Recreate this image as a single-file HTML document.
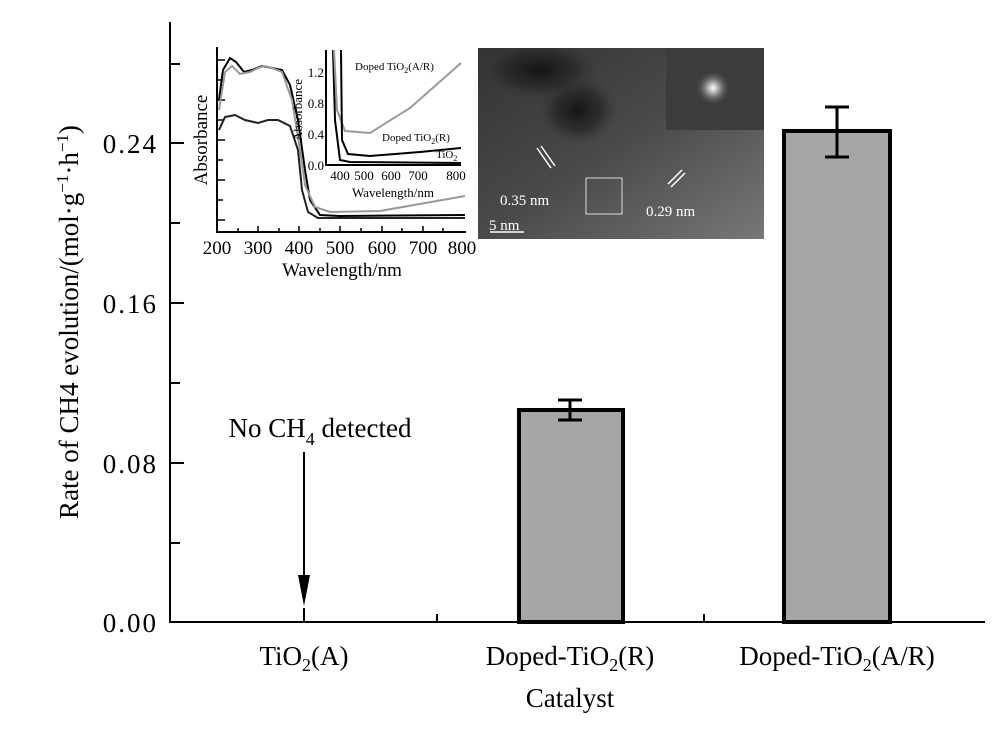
<!DOCTYPE html>
<html><head><meta charset="utf-8"><style>
body{margin:0;background:#fff;}
svg{display:block;font-family:"Liberation Serif",serif;}
</style></head><body>
<svg width="1000" height="743" viewBox="0 0 1000 743">
<defs>
<radialGradient id="dark" cx="0.5" cy="0.5" r="0.5"><stop offset="0" stop-color="#151515"/><stop offset="0.6" stop-color="#252525" stop-opacity="0.7"/><stop offset="1" stop-color="#3a3a3a" stop-opacity="0"/></radialGradient>
<linearGradient id="tem" x1="0" y1="0" x2="1" y2="1"><stop offset="0" stop-color="#333"/><stop offset="0.5" stop-color="#4a4a4a"/><stop offset="1" stop-color="#777"/></linearGradient>
<radialGradient id="fft"><stop offset="0" stop-color="#fff"/><stop offset="0.3" stop-color="#aaa"/><stop offset="1" stop-color="#3a3a3a" stop-opacity="0"/></radialGradient>
<clipPath id="tc"><rect x="478" y="48" width="286" height="191"/></clipPath>
</defs>
<!-- main axes -->
<g stroke="#000" stroke-width="2" fill="none">
<line x1="170" y1="22" x2="170" y2="623"/>
<line x1="169" y1="622" x2="985" y2="622"/>
<line x1="170" y1="143" x2="184" y2="143"/>
<line x1="170" y1="303" x2="184" y2="303"/>
<line x1="170" y1="463" x2="184" y2="463"/>
<line x1="170" y1="64" x2="180" y2="64"/>
<line x1="170" y1="223" x2="180" y2="223"/>
<line x1="170" y1="383" x2="180" y2="383"/>
<line x1="170" y1="543" x2="180" y2="543"/>
<line x1="304" y1="622" x2="304" y2="608"/>
<line x1="570" y1="622" x2="570" y2="608"/>
<line x1="837" y1="622" x2="837" y2="608"/>
<line x1="437" y1="622" x2="437" y2="614"/>
<line x1="704" y1="622" x2="704" y2="614"/>
</g>
<g font-size="27" text-anchor="end" letter-spacing="2">
<text x="158" y="632">0.00</text><text x="158" y="473">0.08</text>
<text x="158" y="313">0.16</text><text x="158" y="153">0.24</text>
</g>
<text transform="translate(78,322) rotate(-90)" font-size="27" text-anchor="middle">Rate of CH4 evolution/(mol·g<tspan dy="-10" font-size="17">−1</tspan><tspan dy="10">·h</tspan><tspan dy="-10" font-size="17">−1</tspan><tspan dy="10">)</tspan></text>
<g font-size="27" text-anchor="middle">
<text x="304" y="665">TiO<tspan font-size="18" dy="6">2</tspan><tspan dy="-6">(A)</tspan></text>
<text x="570" y="665">Doped-TiO<tspan font-size="18" dy="6">2</tspan><tspan dy="-6">(R)</tspan></text>
<text x="837" y="665">Doped-TiO<tspan font-size="18" dy="6">2</tspan><tspan dy="-6">(A/R)</tspan></text>
<text x="570" y="707">Catalyst</text>
<text x="320" y="437">No CH<tspan font-size="18" dy="8">4</tspan><tspan dy="-8"> detected</tspan></text>
</g>
<line x1="304" y1="452" x2="304" y2="585" stroke="#000" stroke-width="2"/>
<polygon points="298,575 310,575 304,606" fill="#000"/>
<!-- bars -->
<rect x="519" y="410" width="104" height="212" fill="#a6a6a6" stroke="#000" stroke-width="4"/>
<rect x="784" y="131" width="106" height="491" fill="#a6a6a6" stroke="#000" stroke-width="4"/>
<g stroke="#000" stroke-width="3">
<line x1="570" y1="400" x2="570" y2="420"/><line x1="558" y1="400" x2="582" y2="400"/><line x1="558" y1="420" x2="582" y2="420"/>
<line x1="837" y1="107" x2="837" y2="157"/><line x1="825" y1="107" x2="849" y2="107"/><line x1="825" y1="157" x2="849" y2="157"/>
</g>
<!-- UV inset -->
<g stroke="#000" stroke-width="2" fill="none">
<line x1="217" y1="47" x2="217" y2="233"/><line x1="216" y1="232" x2="466" y2="232"/>
</g>
<g stroke="#000" stroke-width="1.5">
<line x1="217" y1="60" x2="225" y2="60"/><line x1="217" y1="80" x2="223" y2="80"/><line x1="217" y1="100" x2="225" y2="100"/><line x1="217" y1="120" x2="223" y2="120"/><line x1="217" y1="140" x2="225" y2="140"/><line x1="217" y1="160" x2="223" y2="160"/><line x1="217" y1="180" x2="225" y2="180"/><line x1="217" y1="200" x2="223" y2="200"/><line x1="217" y1="220" x2="225" y2="220"/>
<line x1="238" y1="232" x2="238" y2="228"/><line x1="258" y1="232" x2="258" y2="226"/><line x1="279" y1="232" x2="279" y2="228"/><line x1="299" y1="232" x2="299" y2="226"/><line x1="320" y1="232" x2="320" y2="228"/><line x1="340" y1="232" x2="340" y2="226"/><line x1="361" y1="232" x2="361" y2="228"/><line x1="382" y1="232" x2="382" y2="226"/><line x1="402" y1="232" x2="402" y2="228"/><line x1="423" y1="232" x2="423" y2="226"/><line x1="443" y1="232" x2="443" y2="228"/>
</g>
<text transform="translate(207,140) rotate(-90)" font-size="19" text-anchor="middle">Absorbance</text>
<g font-size="19" text-anchor="middle">
<text x="217" y="254">200</text><text x="258" y="254">300</text><text x="299" y="254">400</text><text x="340" y="254">500</text><text x="382" y="254">600</text><text x="423" y="254">700</text><text x="462" y="254">800</text>
<text x="342" y="276">Wavelength/nm</text></g>
<g fill="none" stroke-width="2">
<path d="M219,100 L223,70 L230,58 L236,62 L244,72 L252,70 L262,66 L272,68 L282,70 L290,85 L298,120 L305,170 L310,200 L320,215 L340,216 L465,215" stroke="#000"/>
<path d="M219,110 L225,72 L232,66 L240,74 L250,72 L258,68 L264,66 L272,68 L282,72 L292,100 L300,150 L305,185 L315,207 L330,212 L380,211 L465,196" stroke="#999"/>
<path d="M219,130 L225,117 L235,115 L245,120 L258,123 L268,120 L278,120 L290,126 L298,150 L302,190 L308,212 L318,218 L465,218" stroke="#222"/>
</g>
<!-- inner inset -->
<rect x="327" y="48" width="136" height="116" fill="#fff"/>
<g stroke="#000" stroke-width="2" fill="none">
<line x1="326" y1="50" x2="326" y2="166"/><line x1="325" y1="165" x2="461" y2="165"/></g>
<g font-size="13" text-anchor="end"><text x="324" y="170">0.0</text><text x="324" y="139">0.4</text><text x="324" y="108">0.8</text><text x="324" y="77">1.2</text></g>
<text transform="translate(302,110) rotate(-90)" font-size="13" text-anchor="middle">Absorbance</text>
<g font-size="13" text-anchor="middle"><text x="340" y="180">400</text><text x="364" y="180">500</text><text x="391" y="180">600</text><text x="418" y="180">700</text><text x="456" y="180">800</text>
<text x="393" y="197">Wavelength/nm</text></g>
<g fill="none" stroke-width="2">
<path d="M333,50 L335,120 L340,160 L350,162 L461,163" stroke="#000"/>
<path d="M334,50 L337,110 L345,131 L370,133 L410,108 L461,63" stroke="#999"/>
<path d="M341,50 L342,140 L348,154 L370,156 L420,152 L461,148" stroke="#000"/>
</g>
<g font-size="11"><text x="355" y="70">Doped TiO<tspan dy="3" font-size="8">2</tspan><tspan dy="-3">(A/R)</tspan></text>
<text x="382" y="141">Doped TiO<tspan dy="3" font-size="8">2</tspan><tspan dy="-3">(R)</tspan></text>
<text x="436" y="158">TiO<tspan dy="3" font-size="8">2</tspan></text></g>
<!-- TEM -->
<g clip-path="url(#tc)">
<rect x="478" y="48" width="286" height="191" fill="url(#tem)"/>
<ellipse cx="578" cy="110" rx="40" ry="35" fill="url(#dark)"/>
<ellipse cx="540" cy="70" rx="60" ry="30" fill="url(#dark)"/>
<rect x="666" y="48" width="98" height="82" fill="#3c3c3c"/>
<circle cx="713" cy="88" r="18" fill="url(#fft)"/>
</g>
<rect x="586" y="178" width="36" height="36" fill="none" stroke="#ddd" stroke-width="1"/>
<g stroke="#fff" stroke-width="1.5"><line x1="537" y1="148" x2="551" y2="168"/><line x1="541" y1="146" x2="555" y2="166"/><line x1="668" y1="184" x2="682" y2="170"/><line x1="671" y1="187" x2="685" y2="173"/><line x1="490" y1="232" x2="524" y2="232"/></g>
<g fill="#fff" font-size="15"><text x="500" y="205">0.35 nm</text><text x="646" y="216">0.29 nm</text><text x="489" y="230">5 nm</text></g>
</svg>
</body></html>
